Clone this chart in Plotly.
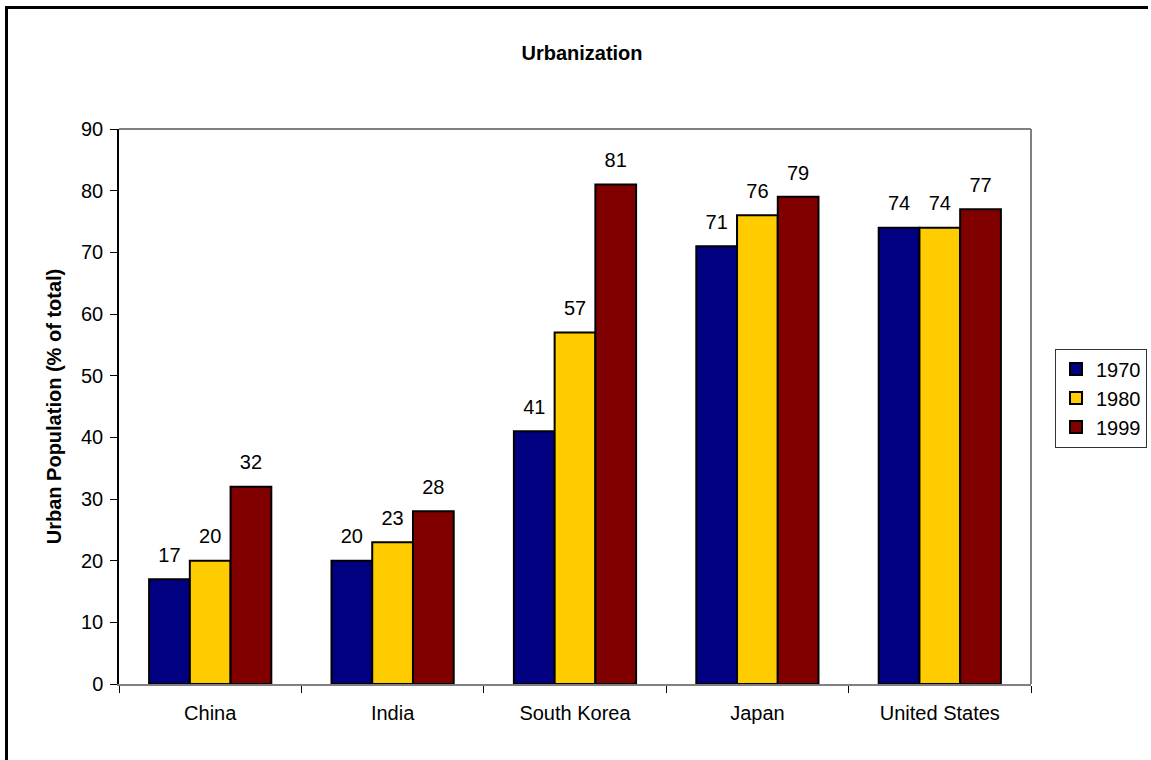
import plotly.graph_objects as go

categories = ["China", "India", "South Korea", "Japan", "United States"]
years = ["1970", "1980", "1999"]
v1970 = [17, 20, 41, 71, 74]
v1980 = [20, 23, 57, 76, 74]
v1999 = [32, 28, 81, 79, 77]
series = [v1970, v1980, v1999]
colors = ["#000080", "#FFCC00", "#800000"]
y_ticks = list(range(0, 91, 10))

W, H = 1151, 760
L, R, T, B = 119, 120, 129, 76
pw, ph = W - L - R, H - T - B

def px_x(p):
    return (p - L) / pw

def px_y(p):
    return (H - B - p) / ph

fig = go.Figure()
for name, vals, col in zip(years, series, colors):
    fig.add_trace(go.Bar(
        x=categories, y=vals, name=name, offsetgroup=name,
        marker=dict(color=col, line=dict(color="black", width=2)),
        hoverinfo="skip",
    ))
for name, vals in zip(years, series):
    fig.add_trace(go.Scatter(
        x=categories, y=vals, offsetgroup=name, mode="markers+text",
        text=[str(v) for v in vals], textposition="top center",
        textfont=dict(family="Liberation Sans, Arial", size=20, color="black"),
        marker=dict(size=18, color="rgba(0,0,0,0)"),
        showlegend=False, hoverinfo="skip", cliponaxis=False,
    ))

fig.update_layout(
    width=W, height=H,
    margin=dict(l=L, r=R, t=T, b=B, autoexpand=False),
    paper_bgcolor="white", plot_bgcolor="white",
    barmode="group", bargap=0.33, bargroupgap=0,
    scattermode="group", scattergap=0.33,
    font=dict(family="Liberation Sans, Arial", size=20, color="black"),
    title=dict(text="<b>Urbanization</b>", x=582 / W, y=1 - 53 / H,
               xanchor="center", yanchor="middle",
               font=dict(size=20, color="black")),
    showlegend=True,
    legend=dict(x=px_x(1055), y=px_y(398), xanchor="left", yanchor="middle",
                bordercolor="#333333", borderwidth=1, bgcolor="white",
                font=dict(size=20), tracegroupgap=0),
    xaxis=dict(showline=True, linecolor="#808080", linewidth=2,
               ticks="outside", tickson="boundaries", ticklen=7,
               tickcolor="black", tickwidth=1, showgrid=False,
               ticklabelstandoff=10,
               tickfont=dict(size=20)),
    yaxis=dict(range=[0, 90], tickvals=y_ticks, showline=True,
               linecolor="black", linewidth=1.5, ticks="outside", ticklen=7,
               tickcolor="black", showgrid=False, zeroline=False,
               ticklabelstandoff=3,
               tickfont=dict(size=20),
               title=dict(text="<b>Urban Population (% of total)</b>",
                          font=dict(size=20), standoff=14)),
)

# plot-area border (top and right grey)
fig.add_shape(type="line", xref="paper", yref="paper", x0=0, x1=1, y0=1, y1=1,
              line=dict(color="#808080", width=2))
fig.add_shape(type="line", xref="paper", yref="paper", x0=1, x1=1, y0=0, y1=1,
              line=dict(color="#808080", width=2))
# outer chart border (left and top visible)
fig.add_shape(type="line", xref="paper", yref="paper",
              x0=px_x(6.5), x1=px_x(6.5), y0=px_y(6), y1=px_y(765),
              line=dict(color="black", width=3))
fig.add_shape(type="line", xref="paper", yref="paper",
              x0=px_x(5), x1=px_x(1148), y0=px_y(7.5), y1=px_y(7.5),
              line=dict(color="black", width=3))

fig.write_html("out.html")
